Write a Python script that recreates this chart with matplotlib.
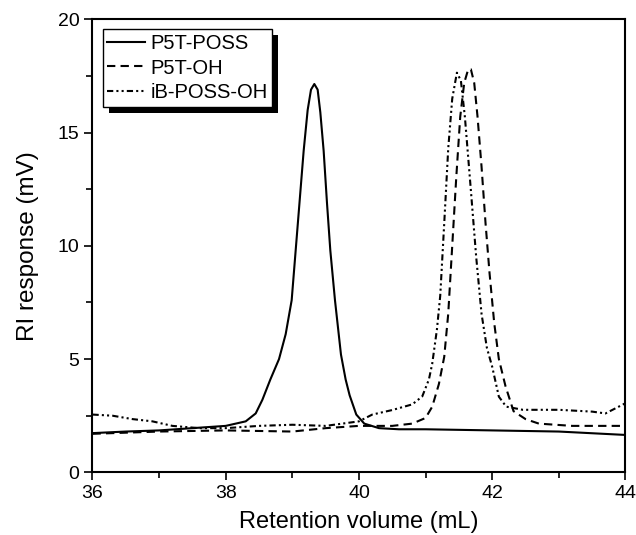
import matplotlib
matplotlib.use("Agg")
import matplotlib.pyplot as plt
from matplotlib.ticker import MultipleLocator
from matplotlib.patches import Rectangle
from matplotlib.transforms import IdentityTransform

# Data (retention volume in mL, RI response in mV)
poss_x = [36.0, 36.5, 37.0, 37.5, 38.0, 38.3, 38.45, 38.55, 38.67, 38.8, 38.9, 38.99,
          39.05, 39.11, 39.17, 39.23, 39.28, 39.33, 39.38, 39.42, 39.47, 39.52, 39.57,
          39.64, 39.73, 39.8, 39.86, 39.96, 40.08, 40.3, 40.6, 41.0, 42.0, 43.0, 44.0]
poss_y = [1.73, 1.8, 1.85, 1.95, 2.05, 2.25, 2.6, 3.2, 4.1, 5.0, 6.1, 7.6,
          9.8, 12.0, 14.2, 16.0, 16.9, 17.15, 16.9, 15.9, 14.2, 11.9, 9.8,
          7.6, 5.2, 4.1, 3.4, 2.55, 2.15, 1.95, 1.9, 1.9, 1.85, 1.8, 1.65]

oh_x = [36.0, 37.0, 38.0, 39.0, 39.5, 40.0, 40.5, 40.8, 41.0, 41.1, 41.2, 41.28,
        41.34, 41.4, 41.46, 41.52, 41.58, 41.64, 41.68, 41.73, 41.78, 41.84, 41.9,
        41.96, 42.03, 42.1, 42.2, 42.32, 42.5, 42.7, 43.2, 44.0]
oh_y = [1.7, 1.8, 1.85, 1.8, 1.95, 2.05, 2.05, 2.15, 2.4, 2.9, 3.9, 5.1,
        7.0, 10.0, 13.0, 15.7, 17.2, 17.8, 17.8, 17.2, 15.7, 13.5, 11.0,
        8.8, 6.6, 5.0, 3.8, 2.7, 2.35, 2.15, 2.05, 2.05]

ib_x = [36.0, 36.3, 36.6, 36.9, 37.2, 37.6, 38.0, 38.5, 39.0, 39.5, 40.0, 40.2,
        40.5, 40.8, 40.95, 41.05, 41.1, 41.17, 41.22, 41.28, 41.34, 41.4, 41.47,
        41.53, 41.59, 41.68, 41.76, 41.84, 41.92, 42.0, 42.1, 42.21, 42.46, 43.0,
        43.5, 43.7, 44.0]
ib_y = [2.55, 2.5, 2.35, 2.25, 2.05, 1.95, 1.95, 2.05, 2.1, 2.05, 2.25, 2.55,
        2.75, 3.0, 3.35, 4.1, 4.8, 6.3, 7.8, 11.0, 14.3, 16.5, 17.65,
        17.3, 15.7, 12.45, 9.5, 7.0, 5.5, 4.66, 3.34, 2.9, 2.76, 2.76,
        2.68, 2.6, 3.05]

labels = ["P5T-POSS", "P5T-OH", "iB-POSS-OH"]

plt.rcParams['font.family'] = ['Liberation Sans', 'DejaVu Sans']

fig = plt.figure(figsize=(6.36, 5.35), dpi=100)
ax = fig.add_axes([0.1454, 0.1172, 0.838, 0.8464])

ax.plot(poss_x, poss_y, color='black', lw=1.5, linestyle='-', label=labels[0])
ax.plot(oh_x, oh_y, color='black', lw=1.5, linestyle=(0, (4, 2.5)), label=labels[1])
ax.plot(ib_x, ib_y, color='black', lw=1.5,
        linestyle=(0, (3, 1.5, 1, 1.5, 1, 1.5)), label=labels[2])

ax.set_xlim(36, 44)
ax.set_ylim(0, 20)
ax.xaxis.set_major_locator(MultipleLocator(2))
ax.xaxis.set_minor_locator(MultipleLocator(1))
ax.yaxis.set_major_locator(MultipleLocator(5))
ax.yaxis.set_minor_locator(MultipleLocator(2.5))
ax.tick_params(which='both', direction='out', top=False, right=False,
               labelsize=14, width=1.2)
ax.tick_params(which='major', length=6)
ax.tick_params(which='minor', length=4)
for s in ax.spines.values():
    s.set_linewidth(1.5)

ax.set_xlabel("Retention volume (mL)", fontsize=17, labelpad=6)
ax.set_ylabel("RI response (mV)", fontsize=17.5, labelpad=13)

leg = ax.legend(loc='upper left', bbox_to_anchor=(0.019, 0.978), fontsize=14.5,
                frameon=True, fancybox=False, edgecolor='black', framealpha=1,
                shadow=False, handlelength=1.9,
                borderpad=0.22, labelspacing=0.28, handletextpad=0.25,
                borderaxespad=0)
leg.get_frame().set_linewidth(1.0)
leg.set_zorder(5)

# manual drop shadow offset by ~6 px to the lower right, drawn under the legend
fig.canvas.draw()
bb = leg.get_frame().get_window_extent()
shadow = Rectangle((bb.x0 + 6, bb.y0 - 6), bb.width, bb.height,
                   facecolor='black', edgecolor='none', zorder=4.5)
shadow.set_transform(IdentityTransform())
ax.add_artist(shadow)
shadow.set_clip_on(False)

fig.savefig("out.png", dpi=100)
